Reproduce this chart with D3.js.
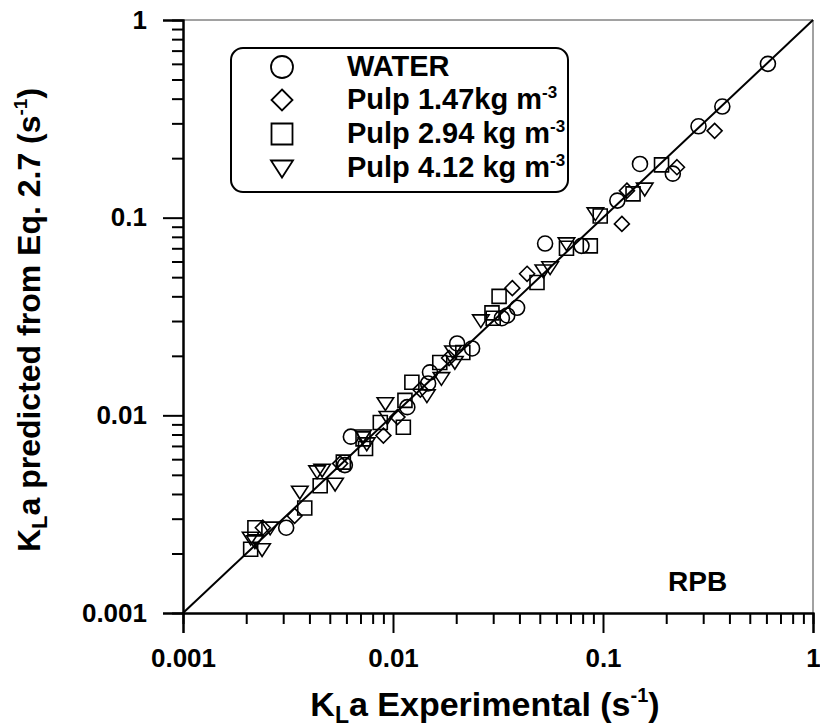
<!DOCTYPE html>
<html>
<head>
<meta charset="utf-8">
<script src="https://cdn.jsdelivr.net/npm/d3@7"></script>
<style>
  body { margin: 0; background: #fff; }
  text { font-family: "Liberation Sans", Arial, sans-serif; font-weight: bold; fill: #000; }
</style>
</head>
<body>
<div id="chart"></div>
<script>
// [KLa experimental, KLa predicted] pairs
var water = [[0.61,0.60],[0.37,0.365],[0.285,0.29],[0.15,0.187],[0.215,0.167],[0.117,0.122],
  [0.079,0.072],[0.053,0.074],[0.039,0.035],[0.033,0.031],[0.035,0.032],[0.0238,0.0218],
  [0.0202,0.0231],[0.015,0.0165],[0.0147,0.0145],[0.0117,0.011],[0.0063,0.0078],[0.0059,0.0056],
  [0.0031,0.0027]];
var pulp147 = [[0.34,0.275],[0.225,0.18],[0.13,0.137],[0.123,0.093],[0.0435,0.052],[0.037,0.044],
  [0.0135,0.0135],[0.009,0.0079],[0.0105,0.0098],[0.0034,0.0031],[0.0024,0.0027],[0.0185,0.0195],
  [0.0056,0.0057]];
var pulp294 = [[0.19,0.185],[0.139,0.132],[0.097,0.102],[0.067,0.07],[0.087,0.072],[0.0485,0.047],
  [0.032,0.040],[0.0296,0.033],[0.030,0.031],[0.0215,0.0208],[0.0167,0.0185],[0.0123,0.0147],
  [0.0114,0.0119],[0.0112,0.0087],[0.0087,0.0092],[0.0072,0.0076],[0.0074,0.0068],[0.0058,0.0058],
  [0.0045,0.0044],[0.0038,0.0034],[0.0022,0.0027],[0.0021,0.0021]];
var pulp412 = [[0.158,0.14],[0.092,0.105],[0.067,0.074],[0.056,0.056],[0.052,0.054],[0.0262,0.0302],
  [0.0193,0.021],[0.0197,0.0186],[0.017,0.0154],[0.0145,0.0126],[0.0092,0.0115],[0.0094,0.0098],
  [0.0072,0.0079],[0.0075,0.0072],[0.0046,0.0053],[0.00435,0.0052],[0.0053,0.0045],[0.0036,0.0041],
  [0.0026,0.0027],[0.0021,0.0024],[0.0022,0.0023],[0.00238,0.0021]];

var majorTicks = [0.001, 0.01, 0.1, 1];
var tickLabels = ['0.001', '0.01', '0.1', '1'];
var legendNames = ['WATER', 'Pulp 1.47kg m', 'Pulp 2.94 kg m', 'Pulp 4.12 kg m'];

var width = 820, height = 727;

var svg = d3.select('#chart').append('svg')
    .attr('width', width)
    .attr('height', height);

var x = d3.scaleLog().domain([0.001, 1]).range([183, 813]);
var y = d3.scaleLog().domain([0.001, 1]).range([613, 20]);

var minorTicks = [];
[0.001, 0.01, 0.1].forEach(function (d) {
    for (var k = 2; k <= 9; k++) minorTicks.push(d * k);
});

// frame on top and right
svg.append('line').attr('x1', x(0.001)).attr('x2', x(1)).attr('y1', y(1)).attr('y2', y(1))
    .attr('stroke', '#444').attr('stroke-width', 1);
svg.append('line').attr('x1', x(1)).attr('x2', x(1)).attr('y1', y(1)).attr('y2', y(0.001))
    .attr('stroke', '#444').attr('stroke-width', 1);

// axes: minor ticks first, then majors with labels
svg.append('g').attr('transform', `translate(0,${y(0.001)})`)
    .call(d3.axisBottom(x).tickValues(minorTicks).tickSize(11).tickFormat(''));
svg.append('g').attr('transform', `translate(0,${y(0.001)})`)
    .call(d3.axisBottom(x).tickValues(majorTicks).tickSize(20).tickPadding(16)
        .tickFormat(function (d, i) { return tickLabels[i]; }));
svg.append('g').attr('transform', `translate(${x(0.001)},0)`)
    .call(d3.axisLeft(y).tickValues(minorTicks).tickSize(11).tickFormat(''));
svg.append('g').attr('transform', `translate(${x(0.001)},0)`)
    .call(d3.axisLeft(y).tickValues(majorTicks).tickSize(20).tickPadding(16)
        .tickFormat(function (d, i) { return tickLabels[i]; }));

svg.selectAll('.domain').attr('stroke', '#000').attr('stroke-width', 2);
svg.selectAll('.tick line').attr('stroke', '#000').attr('stroke-width', 2);
svg.selectAll('.tick text').attr('font-size', 26).attr('font-family', '"Liberation Sans", Arial, sans-serif')
    .attr('font-weight', 'bold').attr('fill', '#000');

// 1:1 line
svg.append('line')
    .attr('x1', x(0.001)).attr('y1', y(0.001))
    .attr('x2', x(1)).attr('y2', y(1))
    .attr('stroke', '#000').attr('stroke-width', 2);

// marker shapes
var shapes = {
    circle: function (s) { return d3.symbol().type(d3.symbolCircle).size(Math.PI * s * s)(); },
    diamond: function (s) { return `M0,${-s}L${s},0L0,${s}L${-s},0Z`; },
    square: function (s) { return `M${-s},${-s}H${s}V${s}H${-s}Z`; },
    triangle: function (s) { return `M${-s * 1.1},${-s * 0.75}H${s * 1.1}L0,${s * 0.95}Z`; }
};

var series = [
    { data: water, shape: 'circle', size: 7.5 },
    { data: pulp147, shape: 'diamond', size: 7.5 },
    { data: pulp294, shape: 'square', size: 7 },
    { data: pulp412, shape: 'triangle', size: 7.5 }
];

var pts = svg.append('g');
series.forEach(function (s) {
    pts.selectAll(null).data(s.data).enter().append('path')
        .attr('transform', d => `translate(${x(d[0])},${y(d[1])})`)
        .attr('d', shapes[s.shape](s.size))
        .attr('fill', 'none')
        .attr('stroke', '#000')
        .attr('stroke-width', 1.6);
});

// legend
var legend = svg.append('g');
legend.append('rect')
    .attr('x', 231).attr('y', 48).attr('width', 337).attr('height', 144)
    .attr('rx', 12).attr('ry', 12)
    .attr('fill', '#fff').attr('stroke', '#000').attr('stroke-width', 2);

var rowY = [76, 109, 143, 177];
var legendSize = [11, 10.5, 10.5, 10];
series.forEach(function (s, i) {
    legend.append('path')
        .attr('transform', `translate(282,${rowY[i] - 9})`)
        .attr('d', shapes[s.shape](legendSize[i]))
        .attr('fill', 'none').attr('stroke', '#000').attr('stroke-width', 1.8);
    var t = legend.append('text').attr('x', 347).attr('y', rowY[i]).attr('font-size', 29)
        .text(legendNames[i]);
    if (i > 0) {
        t.append('tspan').attr('font-size', 17).attr('dy', -11).text('-3');
    }
});

// RPB label
svg.append('text').attr('x', 668).attr('y', 591).attr('font-size', 28).text('RPB');

// axis titles
var xt = svg.append('text').attr('x', 485).attr('y', 716).attr('text-anchor', 'middle').attr('font-size', 34);
xt.append('tspan').text('K');
xt.append('tspan').attr('font-size', 23).attr('dy', 7).text('L');
xt.append('tspan').attr('dy', -7).text('a Experimental (s');
xt.append('tspan').attr('font-size', 20).attr('dy', -14).text('-1');
xt.append('tspan').attr('dy', 14).text(')');

var yt = svg.append('text').attr('transform', 'translate(40,320)rotate(-90)')
    .attr('text-anchor', 'middle').attr('font-size', 32);
yt.append('tspan').text('K');
yt.append('tspan').attr('font-size', 22).attr('dy', 7).text('L');
yt.append('tspan').attr('dy', -7).text('a predicted from Eq. 2.7 (s');
yt.append('tspan').attr('font-size', 19).attr('dy', -13).text('-1');
yt.append('tspan').attr('dy', 13).text(')');
</script>
</body>
</html>
